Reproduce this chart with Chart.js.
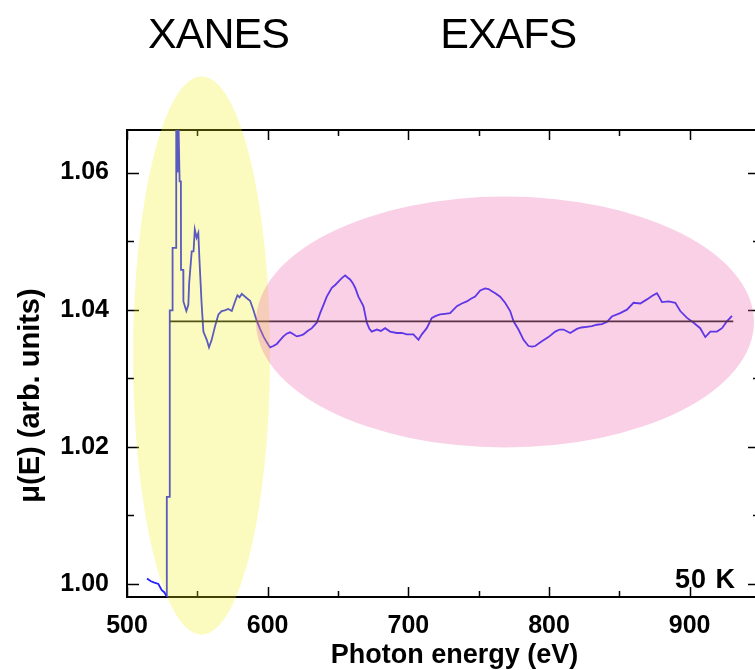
<!DOCTYPE html>
<html>
<head>
<meta charset="utf-8">
<script src="https://cdn.jsdelivr.net/npm/chart.js@4.4.0/dist/chart.umd.min.js"></script>
<style>
  html, body { margin: 0; padding: 0; background: #fff; overflow: hidden; }
  #wrap { position: relative; width: 780px; height: 670px; }
</style>
</head>
<body>
<div id="wrap"><canvas id="xas"></canvas></div>
<script>
// ---- spectrum: absorption mu(E) vs photon energy, 50 K ----
const energyEv = [
  514.2, 517.0, 519.5, 522.3, 524.7, 526.5, 528.2, 528.3, 530.3, 530.4,
  532.3, 532.4, 534.9, 535.0, 535.9, 536.6, 537.4, 538.3, 538.4, 540.0,
  540.1, 542.2, 543.6, 544.2, 546.0, 547.3, 548.2, 549.5, 550.7, 551.5,
  553.0, 554.3, 556.7, 558.3, 560.2, 562.6, 565.0, 567.3, 569.5, 572.0,
  574.5, 576.8, 578.5, 580.0, 581.6, 585.0, 587.5, 589.8, 592.2, 594.6,
  597.0, 599.5, 601.7, 604.0, 606.5, 609.0, 611.2, 613.5, 615.9, 618.3,
  620.7, 623.0, 625.4, 628.4, 631.4, 634.9, 637.3, 639.7, 642.0, 645.6,
  648.0, 650.3, 652.7, 655.1, 656.8, 658.6, 660.4, 662.2, 664.5, 666.3,
  668.1, 670.5, 672.3, 674.0, 677.6, 680.5, 683.5, 687.0, 691.8, 695.3,
  698.9, 703.6, 707.2, 709.6, 713.1, 716.7, 719.6, 722.6, 726.0, 729.7,
  734.5, 738.0, 741.6, 744.5, 747.5, 751.1, 754.6, 757.0, 759.4, 761.8,
  765.3, 768.8, 772.4, 774.8, 778.3, 781.9, 785.4, 788.0, 790.2, 794.9,
  799.6, 804.4, 807.5, 810.3, 815.1, 819.8, 823.0, 826.9, 830.5, 834.0,
  837.5, 841.1, 844.7, 850.6, 855.4, 860.1, 864.9, 869.6, 873.2, 876.7,
  878.5, 880.3, 885.0, 889.8, 893.3, 898.1, 902.8, 907.5, 911.1, 914.7,
  919.4, 923.0, 926.5, 930.1
];
const muE = [
  1.0008, 1.0004, 1.0002, 1.0000, 0.9991, 0.9988, 0.9982, 1.0127, 1.0127, 1.0399,
  1.0399, 1.0490, 1.0490, 1.0680, 1.0600, 1.0675, 1.0587, 1.0587, 1.0458, 1.0458,
  1.0412, 1.0398, 1.0407, 1.0439, 1.0485, 1.0485, 1.0517, 1.0505, 1.0512, 1.0473,
  1.0410, 1.0368, 1.0356, 1.0345, 1.0356, 1.0376, 1.0393, 1.0398, 1.0399, 1.0401,
  1.0398, 1.0412, 1.0421, 1.0418, 1.0423, 1.0417, 1.0413, 1.0400, 1.0384, 1.0372,
  1.0361, 1.0352, 1.0345, 1.0347, 1.0350, 1.0356, 1.0361, 1.0365, 1.0367, 1.0364,
  1.0361, 1.0362, 1.0364, 1.0369, 1.0373, 1.0381, 1.0395, 1.0407, 1.0419, 1.0432,
  1.0436, 1.0441, 1.0446, 1.0450, 1.0447, 1.0444, 1.0439, 1.0432, 1.0419, 1.0412,
  1.0405, 1.0381, 1.0372, 1.0368, 1.0371, 1.0369, 1.0373, 1.0368, 1.0366, 1.0366,
  1.0364, 1.0364, 1.0356, 1.0364, 1.0373, 1.0388, 1.0391, 1.0393, 1.0394, 1.0395,
  1.0405, 1.0409, 1.0412, 1.0416, 1.0419, 1.0428, 1.0431, 1.0430, 1.0427, 1.0424,
  1.0419, 1.0410, 1.0398, 1.0383, 1.0371, 1.0356, 1.0347, 1.0346, 1.0347, 1.0354,
  1.0360, 1.0368, 1.0371, 1.0371, 1.0366, 1.0372, 1.0374, 1.0375, 1.0376, 1.0378,
  1.0379, 1.0382, 1.0390, 1.0395, 1.0400, 1.0410, 1.0409, 1.0415, 1.0420, 1.0424,
  1.0418, 1.0411, 1.0412, 1.0410, 1.0398, 1.0388, 1.0381, 1.0373, 1.0360, 1.0368,
  1.0368, 1.0373, 1.0383, 1.0391
];

// atomic background (flat line above the edge)
const baselineEv = [530.6, 931.0];
const baselineMu = [1.0383, 1.0383];

// labelled ticks
const xMajorTicks = [500, 600, 700, 800, 900];
const yMajorTicks = [1.00, 1.02, 1.04, 1.06];

const toPoints = (xs, ys) => xs.map((x, i) => ({ x, y: ys[i] }));

// shaded regions, in data units (eV, mu)
const regions = [
  { label: "XANES", cx: 553, cy: 1.0333, rx: 48.7, ry: 0.0407, fill: "rgba(240, 240, 20, 0.27)", textEv: 565 },
  { label: "EXAFS", cx: 768.7, cy: 1.0382, rx: 177, ry: 0.0183, fill: "rgba(235, 98, 172, 0.30)", textEv: 771 },
];

const FONT = "'Liberation Sans', Arial, sans-serif";

function isMajor(value, list) {
  return list.some((m) => Math.abs(m - value) < 1e-6);
}

// frame, inward ticks, shaded ellipses and labels
const decorations = {
  id: "decorations",
  beforeDatasetsDraw(chart) {
    const { ctx, chartArea: a } = chart;
    const xs = chart.scales.x;
    const ys = chart.scales.y;
    ctx.save();
    ctx.strokeStyle = "#000";
    ctx.lineWidth = 1.5;
    ctx.beginPath();
    xs.ticks.forEach((t) => {
      const px = Math.round(xs.getPixelForValue(t.value)) + 0.5;
      const len = isMajor(t.value, xMajorTicks) ? 10 : 6;
      ctx.moveTo(px, a.bottom); ctx.lineTo(px, a.bottom - len);
      ctx.moveTo(px, a.top); ctx.lineTo(px, a.top + len);
    });
    ys.ticks.forEach((t) => {
      const py = Math.round(ys.getPixelForValue(t.value)) + 0.5;
      const len = isMajor(t.value, yMajorTicks) ? 12 : 7;
      ctx.moveTo(a.left, py); ctx.lineTo(a.left + len, py);
      ctx.moveTo(a.right, py); ctx.lineTo(a.right - len, py);
    });
    ctx.stroke();
    ctx.lineWidth = 2;
    ctx.strokeRect(a.left, a.top, a.right - a.left, a.bottom - a.top);
    ctx.restore();
  },
  afterDraw(chart) {
    const { ctx, chartArea: a } = chart;
    const xs = chart.scales.x;
    const ys = chart.scales.y;
    ctx.save();
    regions.forEach((r) => {
      const cx = xs.getPixelForValue(r.cx);
      const cy = ys.getPixelForValue(r.cy);
      const rx = xs.getPixelForValue(r.cx + r.rx) - cx;
      const ry = cy - ys.getPixelForValue(r.cy + r.ry);
      ctx.fillStyle = r.fill;
      ctx.beginPath();
      ctx.ellipse(cx, cy, rx, ry, 0, 0, Math.PI * 2);
      ctx.fill();
    });

    ctx.fillStyle = "#000";
    ctx.textAlign = "center";
    ctx.textBaseline = "middle";
    ctx.font = "43px " + FONT;
    ctx.letterSpacing = "-1px";
    regions.forEach((r) => {
      ctx.fillText(r.label, xs.getPixelForValue(r.textEv), a.top - 94);
    });

    // axis titles
    ctx.letterSpacing = "0px";
    ctx.font = "bold 27px " + FONT;
    ctx.fillText("Photon energy (eV)", (a.left + a.right) / 2 + 11, a.bottom + 59);
    ctx.save();
    ctx.translate(31, (a.top + a.bottom) / 2 + 32);
    ctx.rotate(-Math.PI / 2);
    ctx.font = "bold 29px " + FONT;
    ctx.fillText("μ(E) (arb. units)", 0, 0);
    ctx.restore();

    ctx.font = "bold 27px " + FONT;
    ctx.letterSpacing = "1px";
    ctx.textAlign = "right";
    ctx.fillText("50 K", a.right - 24, a.bottom - 16);
    ctx.restore();
  },
};

const ctx = document.getElementById("xas").getContext("2d");

new Chart(ctx, {
  type: "scatter",
  data: {
    datasets: [
      {
        label: "background",
        data: toPoints(baselineEv, baselineMu),
        showLine: true,
        borderColor: "#1a1a1a",
        borderWidth: 1.6,
        pointRadius: 0,
      },
      {
        label: "mu(E)",
        data: toPoints(energyEv, muE),
        showLine: true,
        borderColor: "#2323ff",
        borderWidth: 1.8,
        pointRadius: 0,
        tension: 0,
      },
    ],
  },
  options: {
    responsive: true,
    maintainAspectRatio: false,
    animation: false,
    layout: { padding: { top: 130, right: 20, left: 0, bottom: 0 } },
    plugins: {
      legend: { display: false },
      tooltip: { enabled: false },
    },
    scales: {
      x: {
        type: "linear",
        min: 500,
        max: 950,
        grid: { display: false },
        border: { display: false },
        ticks: {
          stepSize: 50,
          includeBounds: false,
          autoSkip: false,
          maxRotation: 0,
          padding: 6,
          color: "#000",
          font: { family: FONT, size: 25, weight: "bold" },
          callback: (v) => (isMajor(v, xMajorTicks) ? String(v) : ""),
        },
        afterFit: (s) => { s.height = 73; },
      },
      y: {
        type: "linear",
        min: 0.9981,
        max: 1.0662,
        grid: { display: false },
        border: { display: false },
        ticks: {
          stepSize: 0.01,
          includeBounds: false,
          autoSkip: false,
          padding: 10,
          color: "#000",
          font: { family: FONT, size: 25, weight: "bold" },
          callback: (v) => (isMajor(v, yMajorTicks) ? v.toFixed(2) : ""),
        },
        afterFit: (s) => { s.width = 127; },
      },
    },
  },
  plugins: [decorations],
});
</script>
</body>
</html>
